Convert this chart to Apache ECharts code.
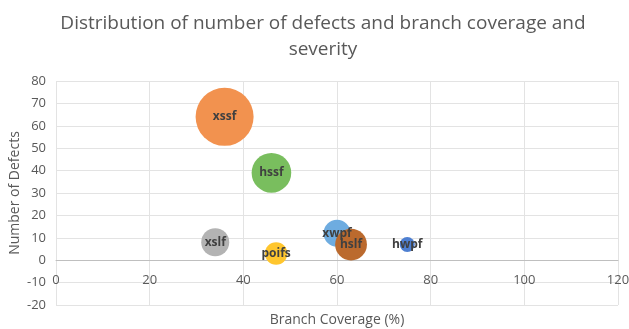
<!DOCTYPE html>
<html>
<head>
<meta charset="utf-8">
<script src="https://cdn.jsdelivr.net/npm/echarts@6/dist/echarts.min.js"></script>
<style>
  html, body { margin: 0; padding: 0; background: #fff; }
  #chart { width: 629px; height: 329px; }
</style>
</head>
<body>
<div id="chart"></div>
<script>
// Components, in drawing order (later bubbles sit on top)
const components = ['xwpf', 'xssf', 'xslf', 'poifs', 'hwpf', 'hssf', 'hslf'];
const branchCoverage = [60, 36, 34, 47, 75, 46, 63];
const defects = [12, 64, 8, 3, 7, 39, 7];
const severity = [6.5, 30, 7, 4.5, 2, 14, 9];
const colors = ['#6EACE0', '#F2924F', '#B3B3B3', '#FFC62E', '#4E7FD1', '#79BE5E', '#BB6A2E'];

const xTicks = [0, 20, 40, 60, 80, 100, 120];
const yTicks = [-20, -10, 0, 10, 20, 30, 40, 50, 60, 70, 80];

const maxSev = Math.max(...severity);
const maxDiameter = 58;

const data = components.map((name, i) => ({
  name: name,
  value: [branchCoverage[i], defects[i], severity[i]],
  itemStyle: { color: colors[i] }
}));

const gridTop = 81, gridBottom = 24, chartHeight = 329;
const yMin = yTicks[0], yMax = yTicks[yTicks.length - 1];
// the horizontal axis crosses at y = 0: lift it from the plot bottom to that line
const plotHeight = chartHeight - gridTop - gridBottom;
const zeroLift = -plotHeight * (0 - yMin) / (yMax - yMin);

const font = '"Open Sans", "Noto Sans", sans-serif';
const chart = echarts.init(document.getElementById('chart'), null, { renderer: 'canvas' });
chart.setOption({
  animation: false,
  backgroundColor: '#ffffff',
  textStyle: { fontFamily: font },
  title: {
    text: 'Distribution of number of defects and branch coverage and\nseverity',
    left: 318,
    textAlign: 'center',
    top: 6,
    textStyle: { fontFamily: font, fontSize: 19, fontWeight: 'normal', color: '#595959', lineHeight: 26 }
  },
  grid: { left: 56, right: 11, top: gridTop, bottom: gridBottom, containLabel: false, outerBoundsMode: 'none' },
  xAxis: {
    type: 'value',
    position: 'bottom',
    offset: zeroLift,
    min: xTicks[0],
    max: xTicks[xTicks.length - 1],
    interval: 20,
    name: 'Branch Coverage (%)',
    nameLocation: 'middle',
    nameGap: 53,
    nameMoveOverlap: false,
    nameTextStyle: { fontFamily: font, fontSize: 14, color: '#595959' },
    axisLine: { onZero: false, lineStyle: { color: '#BFBFBF', width: 1 } },
    axisTick: { show: false },
    axisLabel: { color: '#595959', fontSize: 13, margin: 14 },
    splitLine: { show: true, lineStyle: { color: '#E3E3E3', width: 1 } }
  },
  yAxis: {
    type: 'value',
    min: yMin,
    max: yMax,
    interval: 10,
    name: 'Number of Defects',
    nameLocation: 'middle',
    nameGap: 34,
    nameMoveOverlap: false,
    nameTextStyle: { fontFamily: font, fontSize: 14, color: '#595959' },
    axisLine: { show: false },
    axisTick: { show: false },
    axisLabel: { color: '#595959', fontSize: 13, margin: 10 },
    splitLine: { show: true, lineStyle: { color: '#E3E3E3', width: 1 } }
  },
  series: [{
    type: 'scatter',
    data: data,
    symbolSize: v => Math.sqrt(v[2] / maxSev) * maxDiameter,
    label: {
      show: true,
      position: 'inside',
      formatter: p => p.name,
      fontFamily: font,
      fontSize: 12,
      fontWeight: 'bold',
      color: '#404040'
    },
    itemStyle: { opacity: 1 }
  }]
});
</script>
</body>
</html>
